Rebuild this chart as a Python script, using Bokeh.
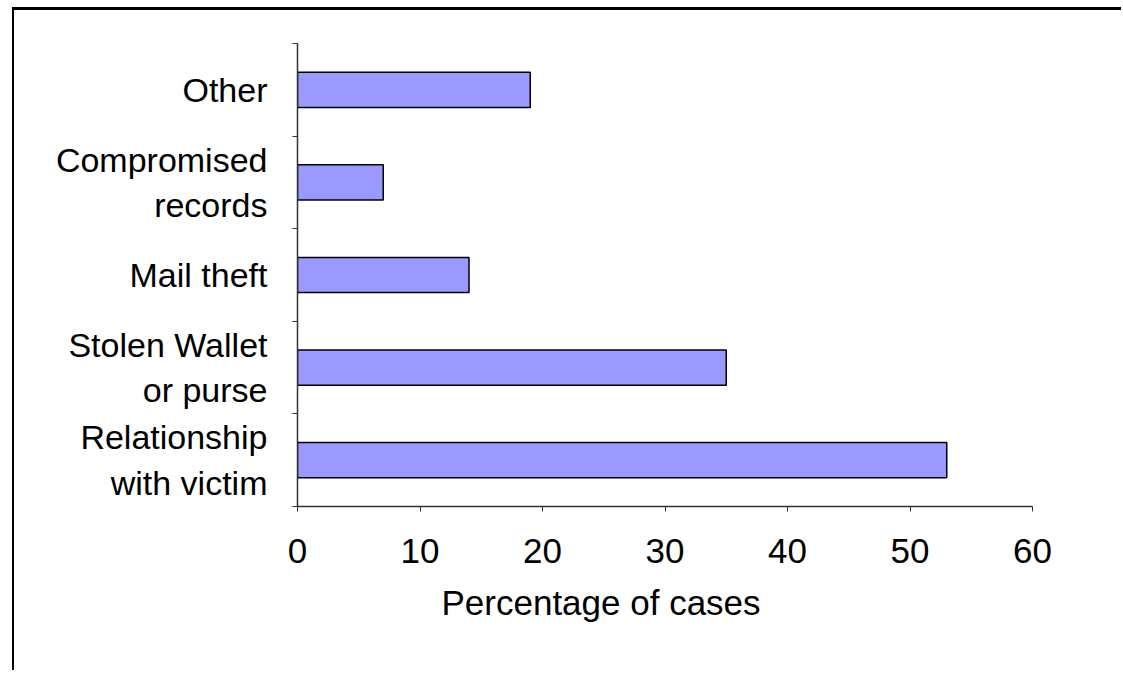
from bokeh.plotting import figure
from bokeh.models import FixedTicker, Title, ColumnDataSource
from bokeh.embed import file_html
from bokeh.resources import INLINE

categories = ["Relationship\nwith victim", "Stolen Wallet\nor purse", "Mail theft",
              "Compromised\nrecords", "Other"]
values = [53, 35, 14, 7, 19]
x_ticks = [0, 10, 20, 30, 40, 50, 60]
x_label = "Percentage of cases"

FONT = "Liberation Sans"
positions = [i + 0.5 for i in range(len(categories))]
boundaries = list(range(len(categories) + 1))
src = ColumnDataSource(dict(y=positions, right=values))

p = figure(width=1109, height=663, x_range=(0, 60), y_range=(0, len(categories)),
           output_backend="svg", toolbar_location=None,
           min_border_left=283, min_border_right=91, min_border_top=33, min_border_bottom=167)
p.margin = (7, 0, 0, 12)
p.styles = {"border-top": "3px solid black", "border-left": "2px solid black"}
p.outline_line_color = None
p.xgrid.visible = False
p.ygrid.visible = False

p.hbar(y="y", right="right", left=0, height=0.38, source=src,
       fill_color="#9999FF", line_color="black", line_width=1.5)

ax = p.xaxis[0]
ax.ticker = FixedTicker(ticks=x_ticks, minor_ticks=[])
ax.axis_line_color = "#333333"
ax.axis_line_width = 1.5
ax.major_tick_line_color = "#333333"
ax.major_tick_in = 0
ax.major_tick_out = 5
ax.minor_tick_line_color = None
ax.major_label_text_font = FONT
ax.major_label_text_font_size = "35px"
ax.major_label_text_color = "black"
ax.major_label_standoff = 27

ay = p.yaxis[0]
ay.ticker = FixedTicker(ticks=positions, minor_ticks=boundaries)
ay.major_label_overrides = {pos: name for pos, name in zip(positions, categories)}
ay.axis_line_color = "#333333"
ay.axis_line_width = 1.5
ay.major_tick_line_color = None
ay.major_tick_in = 0
ay.major_tick_out = 0
ay.minor_tick_line_color = "#333333"
ay.minor_tick_in = 0
ay.minor_tick_out = 5
ay.major_label_text_font = FONT
ay.major_label_text_font_size = "34px"
ay.major_label_text_color = "black"
ay.major_label_standoff = 25

p.add_layout(Title(text=x_label, align="left", offset=144, standoff=30,
                   text_font=FONT, text_font_size="35px", text_font_style="normal",
                   text_color="black"), "below")

open("out.html", "w").write(file_html(p, INLINE))
